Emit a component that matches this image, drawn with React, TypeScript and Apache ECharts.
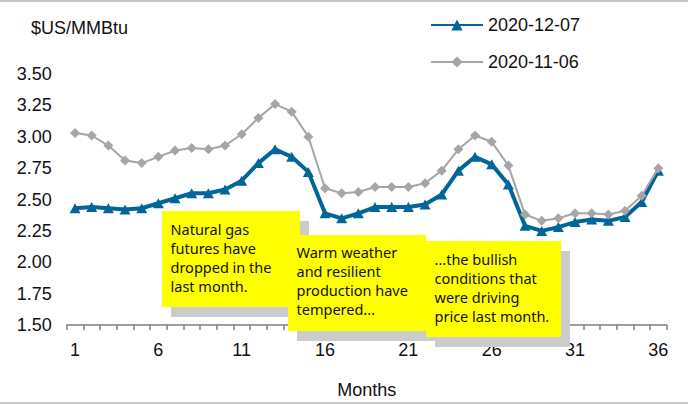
import React, { useEffect, useRef } from "react";
import * as echarts from "echarts";

const months = ["1","2","3","4","5","6","7","8","9","10","11","12","13","14","15","16","17","18","19","20","21","22","23","24","25","26","27","28","29","30","31","32","33","34","35","36"];

const dec07 = [2.43,2.44,2.43,2.42,2.43,2.47,2.51,2.55,2.55,2.58,2.65,2.79,2.90,2.84,2.72,2.39,2.35,2.39,2.44,2.44,2.44,2.46,2.54,2.73,2.84,2.78,2.62,2.29,2.25,2.28,2.32,2.34,2.33,2.36,2.48,2.73];
const nov06 = [3.03,3.01,2.93,2.81,2.79,2.84,2.89,2.91,2.90,2.93,3.02,3.15,3.26,3.20,3.00,2.59,2.55,2.56,2.60,2.60,2.60,2.63,2.73,2.90,3.01,2.96,2.77,2.38,2.33,2.35,2.39,2.39,2.38,2.41,2.53,2.75];

const seriesNames = ["2020-12-07", "2020-11-06"];
const yUnit = "$US/MMBtu";
const xName = "Months";

const notes = [
  ["Natural gas", "futures have", "dropped in the", "last month."],
  ["Warm weather", "and resilient", "production have", "tempered..."],
  ["...the bullish", "conditions that", "were driving", "price last month."],
];

const BLUE = "#006699";
const GRAY = "#a6a6a6";
const FONT = "'Liberation Sans', Arial, sans-serif";
const NOTE_FONT = "'Comic Sans MS', 'Noto Sans', sans-serif";

function noteGroup(lines: string[], x: number, y: number, w: number, h: number, ty: number) {
  return {
    type: "group",
    children: [
      { type: "rect", shape: { x: x + 9, y: y + 10, width: w, height: h }, style: { fill: "#cccccc" }, z: 10 },
      { type: "rect", shape: { x, y, width: w, height: h }, style: { fill: "#ffff00" }, z: 11 },
      {
        type: "text",
        x: x + 8.5,
        y: ty,
        z: 12,
        style: {
          text: lines.join("\n"),
          font: `14.5px ${NOTE_FONT}`,
          lineHeight: 19,
          fill: "#111111",
          textVerticalAlign: "top",
        },
      },
    ],
  };
}

export default function App() {
  const ref = useRef<HTMLDivElement>(null);
  useEffect(() => {
    if (!ref.current) return;
    const chart = echarts.init(ref.current, undefined, { renderer: "svg" });
    chart.setOption({
      animation: false,
      backgroundColor: "#ffffff",
      grid: { left: 66.7, right: 21.3, top: 74, bottom: 68, containLabel: false },
      legend: {
        orient: "vertical",
        left: 425,
        top: 11,
        itemWidth: 52,
        itemHeight: 14,
        itemGap: 19,
        textStyle: { fontFamily: FONT, fontSize: 18, color: "#111111" },
        data: seriesNames,
      },
      xAxis: {
        type: "category",
        data: months,
        boundaryGap: true,
        name: xName,
        nameLocation: "middle",
        nameGap: 56,
        nameTextStyle: { fontFamily: FONT, fontSize: 18, color: "#111111" },
        axisLine: { lineStyle: { color: "#7f7f7f", width: 1.5 } },
        axisTick: { show: true, interval: 0, length: 5, alignWithLabel: false, lineStyle: { color: "#7f7f7f", width: 1.5 } },
        axisLabel: { interval: 4, fontFamily: FONT, fontSize: 18, color: "#111111", margin: 16 },
        splitLine: { show: false },
      },
      yAxis: {
        type: "value",
        min: 1.5,
        max: 3.5,
        interval: 0.25,
        axisLine: { show: false },
        axisTick: { show: false },
        splitLine: { show: false },
        axisLabel: {
          fontFamily: FONT,
          fontSize: 18,
          color: "#111111",
          margin: 15,
          formatter: (v: number) => v.toFixed(2),
        },
      },
      series: [
        {
          name: seriesNames[0],
          type: "line",
          data: dec07,
          symbol: "triangle",
          symbolSize: [11, 10],
          lineStyle: { color: BLUE, width: 4 },
          itemStyle: { color: BLUE },
          z: 3,
        },
        {
          name: seriesNames[1],
          type: "line",
          data: nov06,
          symbol: "diamond",
          symbolSize: 10,
          lineStyle: { color: GRAY, width: 2 },
          itemStyle: { color: GRAY },
          z: 4,
        },
      ],
      graphic: [
        { type: "rect", shape: { x: 0, y: 0, width: 688, height: 2 }, style: { fill: "#c8c8c8" } },
        { type: "rect", shape: { x: 0, y: 402, width: 688, height: 2 }, style: { fill: "#c8c8c8" } },
        {
          type: "text",
          x: 31,
          y: 28,
          style: { text: yUnit, font: `18px ${FONT}`, fill: "#111111", textVerticalAlign: "middle" },
        },
        noteGroup(notes[0], 162, 211, 138, 96, 219),
        noteGroup(notes[1], 288, 235, 138, 96, 242),
        noteGroup(notes[2], 426, 241, 135, 96, 249),
      ],
    });
    return () => chart.dispose();
  }, []);
  return <div ref={ref} style={{ width: 688, height: 404, position: "absolute", left: 0, top: 0 }} />;
}
